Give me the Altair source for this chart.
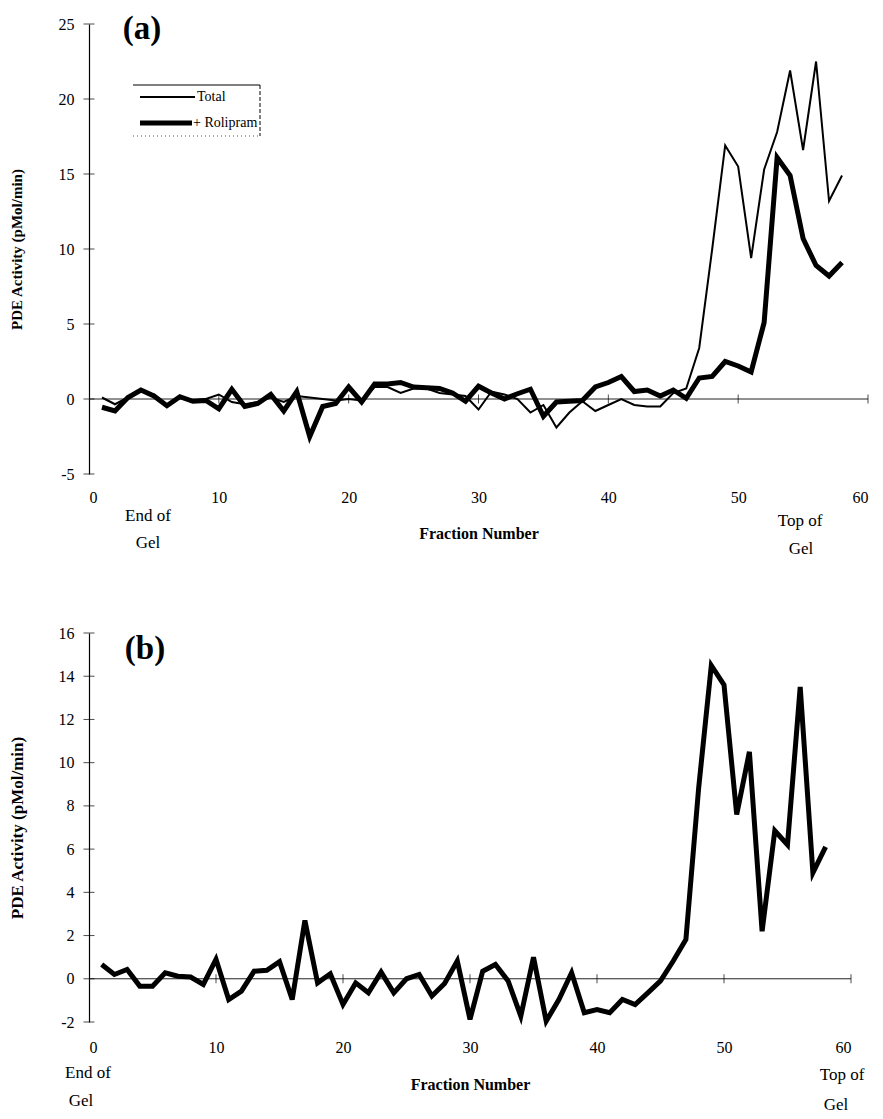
import altair as alt
import pandas as pd

# ---------------- data ----------------
fractions = list(range(1, 59))

total_a = [0.1, -0.35, 0.1, 0.5, 0.3, -0.4, 0.2, -0.1, 0.0, 0.3,
           -0.2, -0.35, -0.2, 0.1, -0.2, 0.2, 0.1, 0.0, -0.1, 0.0,
           -0.1, 0.8, 0.8, 0.4, 0.7, 0.7, 0.4, 0.3, 0.2, -0.7,
           0.5, 0.3, 0.0, -0.9, -0.4, -1.9, -0.9, -0.15, -0.8, -0.4,
           0.0, -0.4, -0.5, -0.5, 0.4, 0.7, 3.4, 10.0, 16.9, 15.5,
           9.4, 15.3, 17.8, 21.9, 16.6, 22.5, 13.2, 14.9]

rolipram_a = [-0.55, -0.8, 0.1, 0.6, 0.2, -0.45, 0.15, -0.15, -0.1, -0.65,
              0.65, -0.5, -0.3, 0.3, -0.8, 0.5, -2.5, -0.5, -0.3, 0.8,
              -0.2, 1.0, 1.0, 1.1, 0.8, 0.75, 0.7, 0.4, -0.15, 0.85,
              0.4, 0.0, 0.35, 0.65, -1.15, -0.2, -0.15, -0.1, 0.8, 1.1,
              1.5, 0.5, 0.6, 0.2, 0.6, 0.05, 1.4, 1.5, 2.5, 2.2,
              1.8, 5.1, 16.1, 14.9, 10.7, 8.9, 8.2, 9.1]

activity_b = [0.66, 0.2, 0.43, -0.34, -0.34, 0.28, 0.12, 0.08, -0.26, 0.9,
              -0.96, -0.57, 0.35, 0.39, 0.79, -0.96, 2.7, -0.19, 0.23, -1.19,
              -0.19, -0.65, 0.31, -0.65, 0.0, 0.2, -0.8, -0.22, 0.82, -1.88,
              0.35, 0.66, -0.1, -1.73, 1.0, -1.96, -0.96, 0.28, -1.57, -1.42,
              -1.57, -0.96, -1.19, -0.65, -0.1, 0.82, 1.82, 8.8, 14.5, 13.6,
              7.6, 10.5, 2.2, 6.85, 6.2, 13.5, 4.9, 6.1]

series_names = ["Total", "+ Rolipram"]
x_ticks = [0, 10, 20, 30, 40, 50, 60]
y_ticks_a = [-5, 0, 5, 10, 15, 20, 25]
y_ticks_b = [-2, 0, 2, 4, 6, 8, 10, 12, 14, 16]

FONT = "Liberation Serif"
Y_TITLE = "PDE Activity (pMol/min)"

df_a = pd.DataFrame({
    "fraction": fractions * 2,
    "activity": total_a + rolipram_a,
    "series": [series_names[0]] * len(fractions) + [series_names[1]] * len(fractions),
})
df_b = pd.DataFrame({"fraction": fractions, "activity": activity_b})
zero_df = pd.DataFrame({"x": [x_ticks[0]], "x2": [x_ticks[-1]], "y": [0]})
xtick_df = pd.DataFrame({"x": x_ticks[1:], "y": [0] * (len(x_ticks) - 1)})
ytick_a_df = pd.DataFrame({"x": [0] * len(y_ticks_a), "y": y_ticks_a})
ytick_b_df = pd.DataFrame({"x": [0] * len(y_ticks_b), "y": y_ticks_b})

W_A, H_A = 779, 450
W_B, H_B = 762, 389

PLAIN_LABEL = "'' + datum.value"


def x_axis(label_pad, title_pad):
    return alt.Axis(values=x_ticks, domain=False, ticks=False, grid=False,
                    labelPadding=label_pad, labelFont=FONT, labelFontSize=16,
                    labelColor="black", labelExpr=PLAIN_LABEL,
                    title="Fraction Number",
                    titleFont=FONT, titleFontSize=16, titleFontWeight="bold",
                    titleColor="black", titlePadding=title_pad)


def y_axis(values, title_size, title_pad):
    return alt.Axis(values=values, grid=False, domainColor="black",
                    domainWidth=1.2, ticks=False,
                    labelFont=FONT, labelFontSize=16, labelColor="black",
                    labelExpr=PLAIN_LABEL,
                    labelPadding=15, title=Y_TITLE, titleFont=FONT,
                    titleFontSize=title_size, titleFontWeight="bold",
                    titleColor="black", titlePadding=title_pad)


def text_layer(text, x, y, size=17, weight="normal", align="center"):
    return alt.Chart(pd.DataFrame({"t": [text]})).mark_text(
        font=FONT, fontSize=size, fontWeight=weight, color="black",
        align=align, baseline="middle"
    ).encode(text="t:N", x=alt.value(x), y=alt.value(y))


def rule_px(x1, x2, y, width=1.0, dash=None, color="black"):
    kw = dict(color=color, strokeWidth=width)
    if dash:
        kw["strokeDash"] = dash
    return alt.Chart(pd.DataFrame({"k": [0]})).mark_rule(**kw).encode(
        x=alt.value(x1), x2=alt.value(x2), y=alt.value(y))


def vrule_px(x, y1, y2, width=1.0, dash=None, color="black"):
    kw = dict(color=color, strokeWidth=width)
    if dash:
        kw["strokeDash"] = dash
    return alt.Chart(pd.DataFrame({"k": [0]})).mark_rule(**kw).encode(
        x=alt.value(x), y=alt.value(y1), y2=alt.value(y2))


def frame_layers(xs, ys, y_df, x_axis_obj, y_axis_obj):
    zero = alt.Chart(zero_df).mark_rule(color="#222222", strokeWidth=1).encode(
        x=alt.X("x:Q", scale=xs, axis=x_axis_obj),
        x2="x2:Q",
        y=alt.Y("y:Q", scale=ys, axis=y_axis_obj),
    )
    xt = alt.Chart(xtick_df).mark_tick(color="black", thickness=1, size=9,
                                      orient="vertical").encode(
        x=alt.X("x:Q", scale=xs), y=alt.Y("y:Q", scale=ys))
    yt = alt.Chart(y_df).mark_tick(color="black", thickness=1, size=11,
                                  orient="horizontal").encode(
        x=alt.X("x:Q", scale=xs), y=alt.Y("y:Q", scale=ys))
    return [zero, xt, yt]


# ---------------- panel (a) ----------------
xs_a = alt.Scale(domain=[0, 60], nice=False)
ys_a = alt.Scale(domain=[-5, 25], nice=False)

lines_a = alt.Chart(df_a).mark_line(color="black", strokeJoin="miter").encode(
    x=alt.X("fraction:Q", scale=xs_a),
    y=alt.Y("activity:Q", scale=ys_a),
    detail="series:N",
    strokeWidth=alt.StrokeWidth(
        "series:N",
        scale=alt.Scale(domain=series_names, range=[2.0, 5.0]),
        legend=None,
    ),
)

legend_a = [
    rule_px(44, 171, 61, 1.0),
    vrule_px(171, 61, 112, 1.0, [4, 2]),
    rule_px(44, 171, 112, 1.0, [1, 3], "#555555"),
    rule_px(51, 106, 73, 2.0),
    text_layer(series_names[0], 108, 73, size=14, align="left"),
    rule_px(51, 103, 99, 5.0),
    text_layer(series_names[1], 104, 99, size=14, align="left"),
]

panel_a = alt.layer(
    *frame_layers(xs_a, ys_a, ytick_a_df, x_axis(15, 20), y_axis(y_ticks_a, 15, 34)),
    lines_a,
    *legend_a,
    text_layer("(a)", 53, 5, size=33, weight="bold"),
    text_layer("End of", 59, 492),
    text_layer("Gel", 59, 519),
    text_layer("Top of", 711, 497),
    text_layer("Gel", 712, 525),
).properties(width=W_A, height=H_A)

# ---------------- panel (b) ----------------
xs_b = alt.Scale(domain=[0, 60], nice=False)
ys_b = alt.Scale(domain=[-2, 16], nice=False)

line_b = alt.Chart(df_b).mark_line(color="black", strokeWidth=5.0,
                                   strokeJoin="miter").encode(
    x=alt.X("fraction:Q", scale=xs_b),
    y=alt.Y("activity:Q", scale=ys_b),
)

panel_b = alt.layer(
    *frame_layers(xs_b, ys_b, ytick_b_df, x_axis(17, 21), y_axis(y_ticks_b, 17, 32)),
    line_b,
    text_layer("(b)", 56, 16, size=33, weight="bold"),
    text_layer("End of", -1, 440),
    text_layer("Gel", -8, 468),
    text_layer("Top of", 753, 442),
    text_layer("Gel", 747, 472),
).properties(width=W_B, height=H_B)

chart = alt.vconcat(panel_a, panel_b, spacing=68).resolve_scale(
    x="independent", y="independent"
).configure_view(stroke=None).properties(
    padding={"left": 0, "top": 5, "right": 5, "bottom": 0},
    background="white",
)

chart.save("out.html", embed_options={"renderer": "svg", "actions": False})
